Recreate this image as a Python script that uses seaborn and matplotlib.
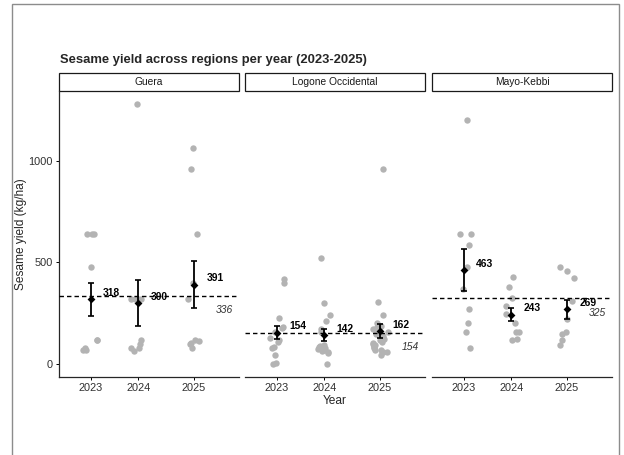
import numpy as np
import pandas as pd
import matplotlib
matplotlib.use("Agg")
import matplotlib.pyplot as plt
import matplotlib.transforms as mtransforms
from matplotlib.patches import Rectangle
import seaborn as sns

# sesame yield (kg/ha) per farm
regions = ["Guera", "Logone Occidental", "Mayo-Kebbi"]
years = [2023, 2024, 2025]

guera_2023 = [640, 640, 640, 480, 120, 120, 80, 70, 70]
guera_2024 = [1280, 320, 320, 320, 320, 120, 100, 80, 80, 65]
guera_2025 = [1065, 960, 640, 400, 320, 120, 115, 105, 100, 80]

logone_2023 = [420, 400, 225, 180, 175, 160, 130, 120, 110, 85, 80, 45, 5, 0]
logone_2024 = [520, 300, 240, 210, 170, 160, 95, 90, 85, 80, 75, 70, 65, 60, 55, 0]
logone_2025 = [960, 305, 240, 200, 185, 180, 175, 170, 165, 160, 150, 140, 130,
               125, 120, 110, 105, 100, 95, 90, 85, 80, 70, 70, 60, 60, 45]

mayo_2023 = [1200, 640, 640, 585, 480, 370, 270, 200, 160, 80]
mayo_2024 = [430, 380, 325, 285, 245, 200, 160, 160, 125, 120]
mayo_2025 = [480, 460, 425, 310, 220, 160, 150, 120, 95]

# yearly mean and standard error shown as black diamonds / bars
year_means = {"Guera": [318, 300, 391],
              "Logone Occidental": [154, 142, 162],
              "Mayo-Kebbi": [463, 243, 269]}
year_se = {"Guera": [82, 115, 117],
           "Logone Occidental": [31, 31, 33],
           "Mayo-Kebbi": [103, 33, 46]}
# overall regional mean (dashed line)
region_means = {"Guera": 336, "Logone Occidental": 154, "Mayo-Kebbi": 325}

raw = {
    "Guera": [guera_2023, guera_2024, guera_2025],
    "Logone Occidental": [logone_2023, logone_2024, logone_2025],
    "Mayo-Kebbi": [mayo_2023, mayo_2024, mayo_2025],
}

rows = []
for reg in regions:
    for yr, vals in zip(years, raw[reg]):
        for v in vals:
            rows.append({"region": reg, "year": yr, "yield": v})
df = pd.DataFrame(rows)

# x placement of the year columns inside each panel
xpos = {2023: 0.0, 2024: 1.0, 2025: 2.17}
df["xpos"] = df["year"].map(xpos)

sns.set_style("ticks")
plt.rcParams["font.family"] = ["Liberation Sans", "DejaVu Sans"]

W, H = 624, 455
fig = plt.figure(figsize=(W / 100, H / 100), dpi=100)

# outer grey frame
fig.patches.append(Rectangle((12 / W, -0.1), (619 - 12) / W, 1.1 - 4 / H,
                             transform=fig.transFigure, fill=False,
                             ec="#8c8c8c", lw=1.0))

lefts = [59, 245, 432]
pw, top, bot = 180, 91, 377
axes = []
for i, l in enumerate(lefts):
    ax = fig.add_axes([l / W, 1 - bot / H, pw / W, (bot - top) / H])
    axes.append(ax)

np.random.seed(3)
for i, (ax, reg) in enumerate(zip(axes, regions)):
    sub = df[df["region"] == reg]
    sns.stripplot(data=sub, x="xpos", y="yield", native_scale=True,
                  jitter=0.17, color="#b3b3b3", size=4.6, linewidth=0,
                  ax=ax, zorder=2)

    ax.axhline(region_means[reg], ls=(0, (3.2, 2.2)), color="black",
               lw=1.0, zorder=3)

    xs = [xpos[y] for y in years]
    ax.errorbar(xs, year_means[reg], yerr=year_se[reg], fmt="none",
                ecolor="black", elinewidth=1.3, capsize=2.4, capthick=1.2,
                zorder=4)
    ax.scatter(xs, year_means[reg], marker="D", s=16, color="black",
               zorder=5, linewidths=0)

    for x, m in zip(xs, year_means[reg]):
        ax.annotate(str(m), (x, m), xytext=(9, 4.5), textcoords="offset points",
                    ha="left", va="center", fontsize=7.4, fontweight="bold",
                    color="black", zorder=6)

    trans = mtransforms.blended_transform_factory(ax.transAxes, ax.transData)
    ax.annotate(str(region_means[reg]), (0.965, region_means[reg]),
                xycoords=trans, xytext=(0, -10.5), textcoords="offset points",
                ha="right", va="center", fontsize=7.4, fontstyle="italic",
                color="#333333")

    ax.set_xlim(-0.666, 3.115)
    ax.set_ylim(-64, 1344)
    ax.set_xticks(xs)
    ax.set_xticklabels([str(y) for y in years])
    ax.set_xlabel("")
    ax.set_ylabel("")
    ax.tick_params(axis="both", length=2.5, width=0.7, colors="black",
                   labelsize=7.9, labelcolor="#303030", pad=2)
    sns.despine(ax=ax)
    ax.spines["bottom"].set_linewidth(0.9)
    ax.spines["left"].set_linewidth(0.9)
    if i == 0:
        ax.set_yticks([0, 500, 1000])
        ax.set_ylabel("Sesame yield (kg/ha)", fontsize=8.6)
        ax.yaxis.set_label_coords((27 - 59) / pw, 0.5)
    else:
        ax.spines["left"].set_visible(False)
        ax.tick_params(axis="y", left=False, labelleft=False)
    if i == 1:
        ax.set_xlabel("Year", fontsize=8.6, labelpad=1)

    # facet strip
    sh = 18 / (bot - top)
    ax.add_patch(Rectangle((0, 1), 1, sh, transform=ax.transAxes,
                           clip_on=False, fc="white", ec="#1a1a1a", lw=0.9))
    ax.text(0.5, 1 + sh / 2, reg, transform=ax.transAxes, ha="center",
            va="center", fontsize=7.4, color="#1a1a1a")

fig.text(60 / W, 1 - 60 / H, "Sesame yield across regions per year (2023-2025)",
         ha="left", va="center", fontsize=9.4, fontweight="bold")

fig.savefig("out.png", dpi=100)
